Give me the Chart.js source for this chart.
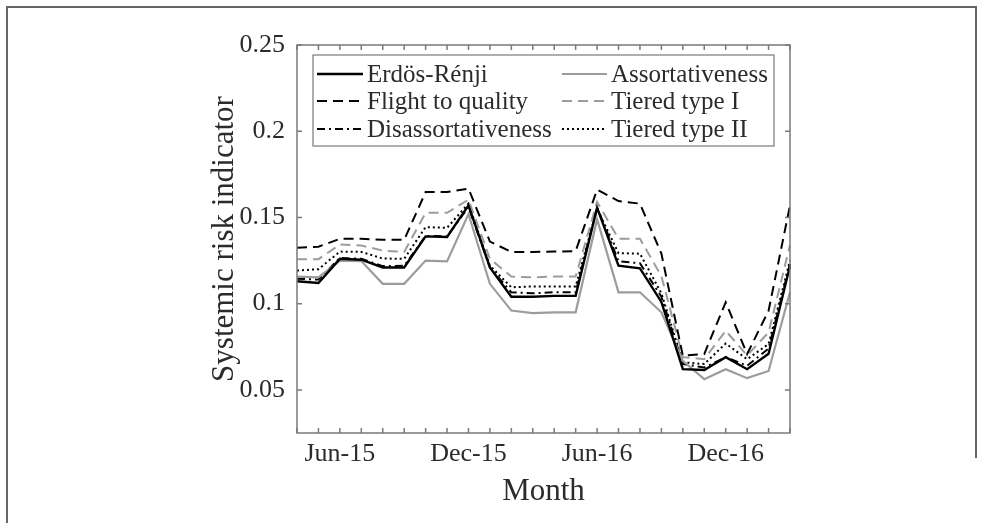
<!DOCTYPE html>
<html lang="en">
<head>
    <meta charset="UTF-8">
    <title>Systemic risk indicator</title>
    <script src="https://cdn.jsdelivr.net/npm/chart.js"></script>
    <style>
        html, body {
            margin: 0;
            padding: 0;
            background: #fff;
        }
        .wrap {
            position: relative;
            width: 987px;
            height: 523px;
            overflow: hidden;
        }
        .frame-left {
            position: absolute;
            left: 6px;
            top: 6px;
            width: 969px;
            height: 517px;
            border-left: 2px solid #666;
            border-top: 2px solid #666;
        }
        .frame-right {
            position: absolute;
            left: 975px;
            top: 6px;
            width: 0;
            height: 452px;
            border-right: 2px solid #666;
        }
        canvas {
            position: absolute;
            left: 0;
            top: 0;
        }
    </style>
</head>
<body>
    <div class="wrap">
        <div class="frame-left"></div>
        <div class="frame-right"></div>
        <canvas id="riskChart" width="987" height="523"></canvas>
    </div>

    <script>
        // months Apr-15 .. Mar-17
        const months = ['Apr-15', 'May-15', 'Jun-15', 'Jul-15', 'Aug-15', 'Sep-15', 'Oct-15', 'Nov-15',
            'Dec-15', 'Jan-16', 'Feb-16', 'Mar-16', 'Apr-16', 'May-16', 'Jun-16', 'Jul-16', 'Aug-16',
            'Sep-16', 'Oct-16', 'Nov-16', 'Dec-16', 'Jan-17', 'Feb-17', 'Mar-17'];
        const shownMonths = ['Jun-15', 'Dec-15', 'Jun-16', 'Dec-16'];
        const yTicks = [0.05, 0.1, 0.15, 0.2, 0.25];

        const erdosRenji = [0.113, 0.112, 0.126, 0.1255, 0.121, 0.121, 0.139, 0.1387, 0.157, 0.121, 0.104, 0.104,
            0.1045, 0.1045, 0.1556, 0.122, 0.1205, 0.101, 0.062, 0.0615, 0.069, 0.062, 0.071, 0.122];
        const assortativeness = [0.1157, 0.1153, 0.125, 0.1247, 0.1115, 0.1115, 0.125, 0.1245, 0.152, 0.1115, 0.096, 0.0945,
            0.095, 0.095, 0.149, 0.1066, 0.1066, 0.095, 0.0669, 0.0562, 0.062, 0.0568, 0.061, 0.1066];
        const flightToQuality = [0.1324, 0.133, 0.1376, 0.1376, 0.137, 0.137, 0.1647, 0.1647, 0.1667, 0.136, 0.130, 0.130,
            0.1302, 0.1305, 0.1661, 0.1595, 0.158, 0.129, 0.0698, 0.0708, 0.1008, 0.0708, 0.0959, 0.157];
        const tieredI = [0.1258, 0.1258, 0.1343, 0.1337, 0.1308, 0.130, 0.1527, 0.1527, 0.1603, 0.126, 0.1157, 0.1153,
            0.1157, 0.1157, 0.159, 0.1376, 0.1376, 0.116, 0.069, 0.0678, 0.0843, 0.070, 0.0833, 0.134];
        const disassortativeness = [0.1144, 0.114, 0.1265, 0.126, 0.1218, 0.122, 0.1393, 0.139, 0.156, 0.121, 0.1066, 0.106,
            0.1066, 0.1066, 0.156, 0.1246, 0.1234, 0.104, 0.065, 0.063, 0.069, 0.064, 0.074, 0.123];
        const tieredII = [0.1192, 0.120, 0.1302, 0.130, 0.1262, 0.126, 0.1444, 0.144, 0.158, 0.122, 0.1095, 0.110,
            0.110, 0.110, 0.155, 0.1293, 0.129, 0.106, 0.066, 0.065, 0.0769, 0.0678, 0.0766, 0.125];

        const serif = 'Liberation Serif, DejaVu Serif, serif';
        const textColor = '#2b2b2b';
        const gray = '#9c9c9c';

        // box round the plot with MATLAB style inner ticks
        const boxAxes = {
            id: 'boxAxes',
            afterDatasetsDraw(chart) {
                const { ctx, chartArea: a, scales: { x, y } } = chart;
                ctx.save();
                ctx.strokeStyle = '#7a7a7a';
                ctx.lineWidth = 1.5;
                ctx.setLineDash([]);
                ctx.strokeRect(a.left, a.top, a.right - a.left, a.bottom - a.top);
                ctx.beginPath();
                x.ticks.forEach((t, i) => {
                    const px = x.getPixelForTick(i);
                    ctx.moveTo(px, a.bottom); ctx.lineTo(px, a.bottom - 5);
                    ctx.moveTo(px, a.top); ctx.lineTo(px, a.top + 5);
                });
                y.ticks.forEach((t, i) => {
                    const py = y.getPixelForTick(i);
                    ctx.moveTo(a.left, py); ctx.lineTo(a.left + 5, py);
                    ctx.moveTo(a.right, py); ctx.lineTo(a.right - 5, py);
                });
                ctx.stroke();
                ctx.restore();
            }
        };

        // two column legend inside the axes
        const boxLegend = {
            id: 'boxLegend',
            afterDraw(chart) {
                const ctx = chart.ctx;
                const ds = chart.data.datasets;
                const rows = [74, 101, 129];
                const cols = [{ x1: 317, x2: 363, tx: 367 }, { x1: 562, x2: 607, tx: 611 }];
                ctx.save();
                ctx.fillStyle = '#fff';
                ctx.fillRect(313, 55, 461, 91);
                ctx.strokeStyle = '#7a7a7a';
                ctx.lineWidth = 1.2;
                ctx.strokeRect(313, 55, 461, 91);
                ctx.font = '25px ' + serif;
                ctx.textBaseline = 'middle';
                ds.forEach((d, i) => {
                    const c = cols[i % 2];
                    const ry = rows[Math.floor(i / 2)];
                    ctx.strokeStyle = d.borderColor;
                    ctx.lineWidth = d.borderWidth;
                    ctx.setLineDash(d.borderDash || []);
                    ctx.beginPath();
                    ctx.moveTo(c.x1, ry);
                    ctx.lineTo(c.x2, ry);
                    ctx.stroke();
                    ctx.setLineDash([]);
                    ctx.fillStyle = textColor;
                    ctx.fillText(d.label, c.tx, ry + 1);
                });
                ctx.restore();
            }
        };

        const ctx = document.getElementById('riskChart').getContext('2d');
        new Chart(ctx, {
            type: 'line',
            data: {
                labels: months,
                datasets: [
                    { label: 'Erdös-Rénji', data: erdosRenji, borderColor: '#000', borderWidth: 2.4, borderDash: [] },
                    { label: 'Assortativeness', data: assortativeness, borderColor: gray, borderWidth: 2.2, borderDash: [] },
                    { label: 'Flight to quality', data: flightToQuality, borderColor: '#000', borderWidth: 2, borderDash: [10, 6] },
                    { label: 'Tiered type I', data: tieredI, borderColor: gray, borderWidth: 2, borderDash: [10, 6] },
                    { label: 'Disassortativeness', data: disassortativeness, borderColor: '#000', borderWidth: 2, borderDash: [8, 4, 2, 4] },
                    { label: 'Tiered type II', data: tieredII, borderColor: '#000', borderWidth: 2, borderDash: [2, 3] }
                ]
            },
            options: {
                responsive: false,
                animation: false,
                layout: { padding: { left: 200, right: 197, top: 45, bottom: 0 } },
                elements: { point: { radius: 0 }, line: { tension: 0, fill: false } },
                plugins: {
                    legend: { display: false },
                    tooltip: { enabled: false }
                },
                scales: {
                    x: {
                        type: 'category',
                        offset: false,
                        grid: { display: false, drawTicks: false },
                        border: { display: false },
                        ticks: {
                            autoSkip: false,
                            maxRotation: 0,
                            padding: 6,
                            color: textColor,
                            font: { family: serif, size: 26 },
                            callback(v) {
                                const l = this.getLabelForValue(v);
                                return shownMonths.includes(l) ? l : '';
                            }
                        },
                        title: {
                            display: true,
                            text: 'Month',
                            color: textColor,
                            font: { family: serif, size: 31 },
                            padding: { top: 0, bottom: 13 }
                        },
                        afterFit(s) { s.height = 90; }
                    },
                    y: {
                        min: 0.025,
                        max: 0.25,
                        grid: { display: false, drawTicks: false },
                        border: { display: false },
                        afterBuildTicks(s) { s.ticks = yTicks.map(v => ({ value: v })); },
                        ticks: {
                            padding: 12,
                            color: textColor,
                            font: { family: serif, size: 26 },
                            callback: v => String(v)
                        },
                        title: {
                            display: true,
                            text: 'Systemic risk indicator',
                            color: textColor,
                            font: { family: serif, size: 31 },
                            padding: { top: 6, bottom: 0 }
                        },
                        afterFit(s) { s.width = 97; }
                    }
                }
            },
            plugins: [boxAxes, boxLegend]
        });
    </script>
</body>
</html>
